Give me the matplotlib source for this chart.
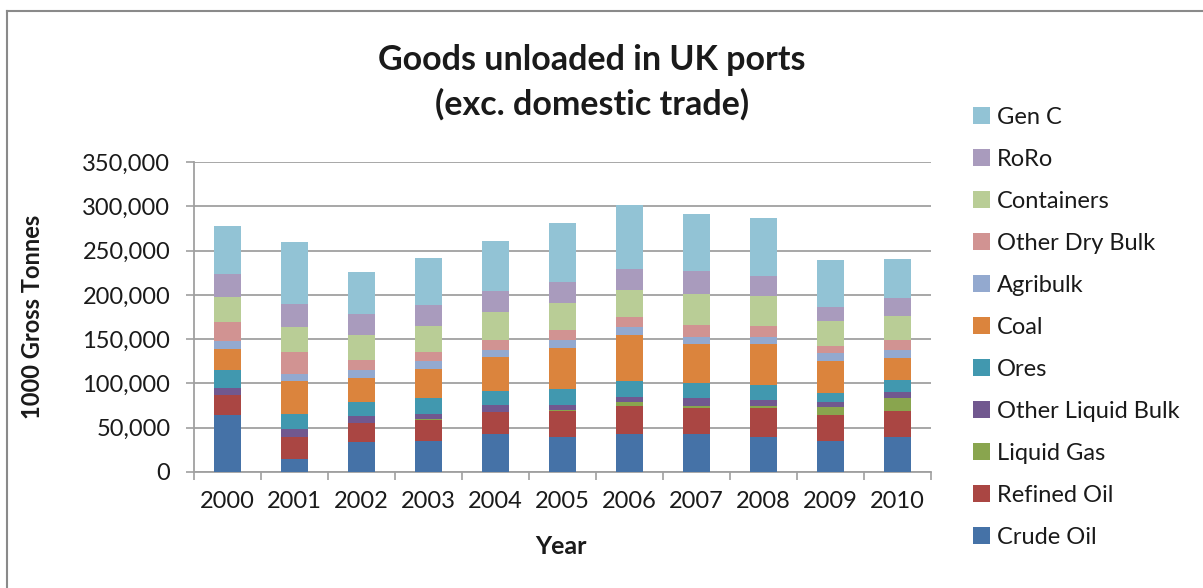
import matplotlib
matplotlib.use("Agg")
import matplotlib.pyplot as plt
from matplotlib.lines import Line2D
from matplotlib.patches import Patch
import numpy as np

plt.rcParams['font.family'] = ['Lato', 'DejaVu Sans']

years = ['2000', '2001', '2002', '2003', '2004', '2005', '2006', '2007', '2008', '2009', '2010']

crude_oil     = [64000, 14400, 33700, 34850, 43200, 39400, 42400, 42400, 39400, 34850, 39400]
refined_oil   = [23100, 25000, 21600, 23500, 25000, 29200, 32200, 30300, 33300, 29200, 29200]
liquid_gas    = [0, 0, 0, 1900, 0, 1900, 4200, 1900, 1900, 9100, 14800]
other_liquid  = [8000, 9100, 7600, 5700, 7600, 5300, 6100, 8700, 7200, 5700, 7200]
ores          = [20500, 17400, 15900, 17400, 15900, 17800, 17400, 17000, 16300, 10200, 13300]
coal          = [23100, 36400, 27650, 33300, 37900, 46200, 52300, 43900, 46200, 36400, 24600]
agribulk      = [8700, 8700, 9100, 8700, 8700, 9100, 9100, 8700, 8300, 8700, 8700]
other_dry     = [22000, 25000, 11400, 10600, 10200, 11400, 11400, 13300, 12100, 7600, 11700]
containers    = [27650, 27300, 27650, 28800, 31800, 30700, 30300, 34800, 33700, 28800, 27300]
roro          = [26100, 26100, 23500, 23500, 23500, 23100, 23900, 26500, 23100, 16300, 20800]
gen_c         = [54200, 70100, 48100, 53800, 56800, 67000, 72700, 63600, 65500, 52300, 43600]

series_names = ['Crude Oil', 'Refined Oil', 'Liquid Gas', 'Other Liquid Bulk', 'Ores', 'Coal',
                'Agribulk', 'Other Dry Bulk', 'Containers', 'RoRo', 'Gen C']
series_values = [crude_oil, refined_oil, liquid_gas, other_liquid, ores, coal,
                 agribulk, other_dry, containers, roro, gen_c]
colors = ['#4572A7', '#AA4643', '#89A54E', '#71588F', '#4198AF', '#DB843D',
          '#93A9CF', '#D19392', '#B9CD96', '#A99BBD', '#92C3D5']

W, H = 1203, 588
fig = plt.figure(figsize=(W / 100, H / 100), dpi=100)
ax = fig.add_axes([194 / W, 1 - 472 / H, 737 / W, 310 / H])

x = np.arange(len(years))
bottom = np.zeros(len(years))
handles = []
for name, vals, c in zip(series_names, series_values, colors):
    v = np.array(vals, dtype=float)
    ax.bar(x, v, width=0.4, bottom=bottom, color=c, edgecolor='none', zorder=3)
    bottom += v
    handles.append(Patch(facecolor=c, edgecolor='none', label=name))

grid_c = '#a0a0a0'
txt_c = '#1a1a1a'
ax.set_xlim(-0.5, len(years) - 0.5)
ax.set_ylim(0, 350000)
ax.set_yticks(np.arange(0, 350001, 50000))
ax.set_yticklabels([f'{v:,}' for v in range(0, 350001, 50000)])
ax.yaxis.grid(True, color=grid_c, linewidth=1.3, zorder=0)
ax.set_axisbelow(True)

ax.set_xticks(np.arange(-0.5, len(years), 1.0))
ax.set_xticklabels([])
ax.set_xticks(x, minor=True)
ax.set_xticklabels(years, minor=True)
ax.tick_params(axis='x', which='major', length=6, width=1.2, color=grid_c, direction='out')
ax.tick_params(axis='x', which='minor', length=0, pad=14, labelsize=17, labelcolor=txt_c)
ax.tick_params(axis='y', which='major', length=6, width=1.2, color=grid_c, direction='out',
               pad=11, labelsize=17, labelcolor=txt_c)

for s in ['top', 'right']:
    ax.spines[s].set_visible(False)
for s in ['left', 'bottom']:
    ax.spines[s].set_color(grid_c)
    ax.spines[s].set_linewidth(1.3)

fig.text(33 / W, 1 - 317 / H, '1000 Gross Tonnes', rotation=90, ha='center', va='center',
         fontsize=17, fontweight='bold', color=txt_c)
fig.text(561 / W, 1 - 547 / H, 'Year', ha='center', va='center',
         fontsize=18, fontweight='bold', color=txt_c)
fig.text(592 / W, 1 - 60 / H, 'Goods unloaded in UK ports', ha='center', va='center',
         fontsize=24.5, fontweight='bold', color=txt_c)
fig.text(592 / W, 1 - 104 / H, '(exc. domestic trade)', ha='center', va='center',
         fontsize=24.5, fontweight='bold', color=txt_c)

leg = fig.legend(handles=handles[::-1], loc='upper left',
                 bbox_to_anchor=(973 / W, 1 - 107 / H), frameon=False,
                 fontsize=17, handlelength=0.72, handleheight=0.72,
                 handletextpad=0.3, labelspacing=0.89, borderaxespad=0, borderpad=0,
                 labelcolor=txt_c)

fig.add_artist(Line2D([7 / W, 7 / W], [0, 1 - 11 / H], transform=fig.transFigure,
                      color='#8a8a8a', linewidth=1.5))
fig.add_artist(Line2D([7 / W, 1], [1 - 11 / H, 1 - 11 / H], transform=fig.transFigure,
                      color='#8a8a8a', linewidth=1.5))

fig.savefig('out.png', dpi=100)
